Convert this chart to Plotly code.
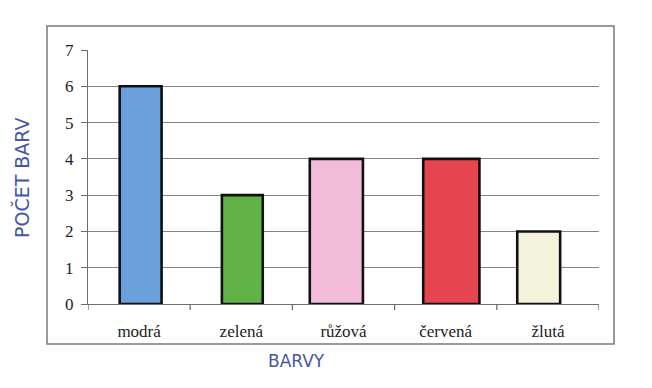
import plotly.graph_objects as go

categories = ["modrá", "zelená", "růžová", "červená", "žlutá"]
counts = [6, 3, 4, 4, 2]
y_ticks = [0, 1, 2, 3, 4, 5, 6, 7]
y_title = "POČET BARV"
x_title = "BARVY"

# styles (hand-drawn look)
bar_colors = ["#6b9fdc", "#62b347", "#f3bcd8", "#e6444f", "#f3f3dc"]
bar_widths = [0.41, 0.40, 0.52, 0.55, 0.42]
bar_offsets = [-0.19, -0.19, -0.33, -0.22, -0.30]

n = len(categories)
boundaries = [i - 0.5 for i in range(n + 1)]

fig = go.Figure()
fig.add_trace(go.Bar(
    x=categories, y=counts,
    width=bar_widths, offset=bar_offsets,
    marker=dict(color=bar_colors, line=dict(color="#111111", width=2.6)),
    showlegend=False,
))

plot_h = 254
tick_shapes = [
    dict(type="line", xref="x", yref="paper",
         x0=b, x1=b, y0=0, y1=-6 / plot_h,
         line=dict(color="#6e6e6e", width=1.3))
    for b in boundaries
]

# page body has an 8px default margin, so the figure is 8px smaller
fig.update_layout(
    width=644, height=380,
    margin=dict(l=80, r=53, t=42, b=84),
    paper_bgcolor="#ffffff",
    plot_bgcolor="#ffffff",
    bargap=0.5,
    font=dict(family="Liberation Serif", size=14, color="#222222"),
    xaxis=dict(
        type="category",
        range=[-0.5, n - 0.5],
        showline=True, linecolor="#6e6e6e", linewidth=1.2,
        ticks="",
        showgrid=False,
        tickfont=dict(family="Liberation Serif", size=17, color="#222222"),
        ticklabelstandoff=11,
        fixedrange=True,
    ),
    yaxis=dict(
        range=[0, 7], tickvals=y_ticks,
        showline=True, linecolor="#6e6e6e", linewidth=1.2,
        ticks="outside", ticklen=6, tickcolor="#6e6e6e", tickwidth=1.2,
        showgrid=True, gridcolor="#858585", gridwidth=1,
        zeroline=False,
        tickfont=dict(family="Liberation Serif", size=17, color="#222222"),
        ticklabelstandoff=4,
        fixedrange=True,
    ),
    shapes=[
        dict(type="rect", xref="paper", yref="paper",
             x0=-41 / 511, x1=(614 - 88) / 511,
             y0=-(344 - 304) / plot_h, y1=(304 - 26) / plot_h,
             line=dict(color="#7a7a7a", width=1.5), fillcolor="rgba(0,0,0,0)",
             layer="below"),
    ] + tick_shapes,
    annotations=[
        dict(text=y_title, xref="paper", yref="paper",
             x=(21 - 88) / 511, y=(304 - 178) / plot_h,
             xanchor="center", yanchor="middle",
             textangle=-90, showarrow=False,
             font=dict(family="DejaVu Sans", size=19, color="#4656a8")),
        dict(text=x_title, xref="paper", yref="paper",
             x=(296 - 88) / 511, y=-(361 - 304) / plot_h,
             xanchor="center", yanchor="middle",
             showarrow=False,
             font=dict(family="DejaVu Sans", size=17, color="#4656a8")),
    ],
)

fig.write_html("out.html")
